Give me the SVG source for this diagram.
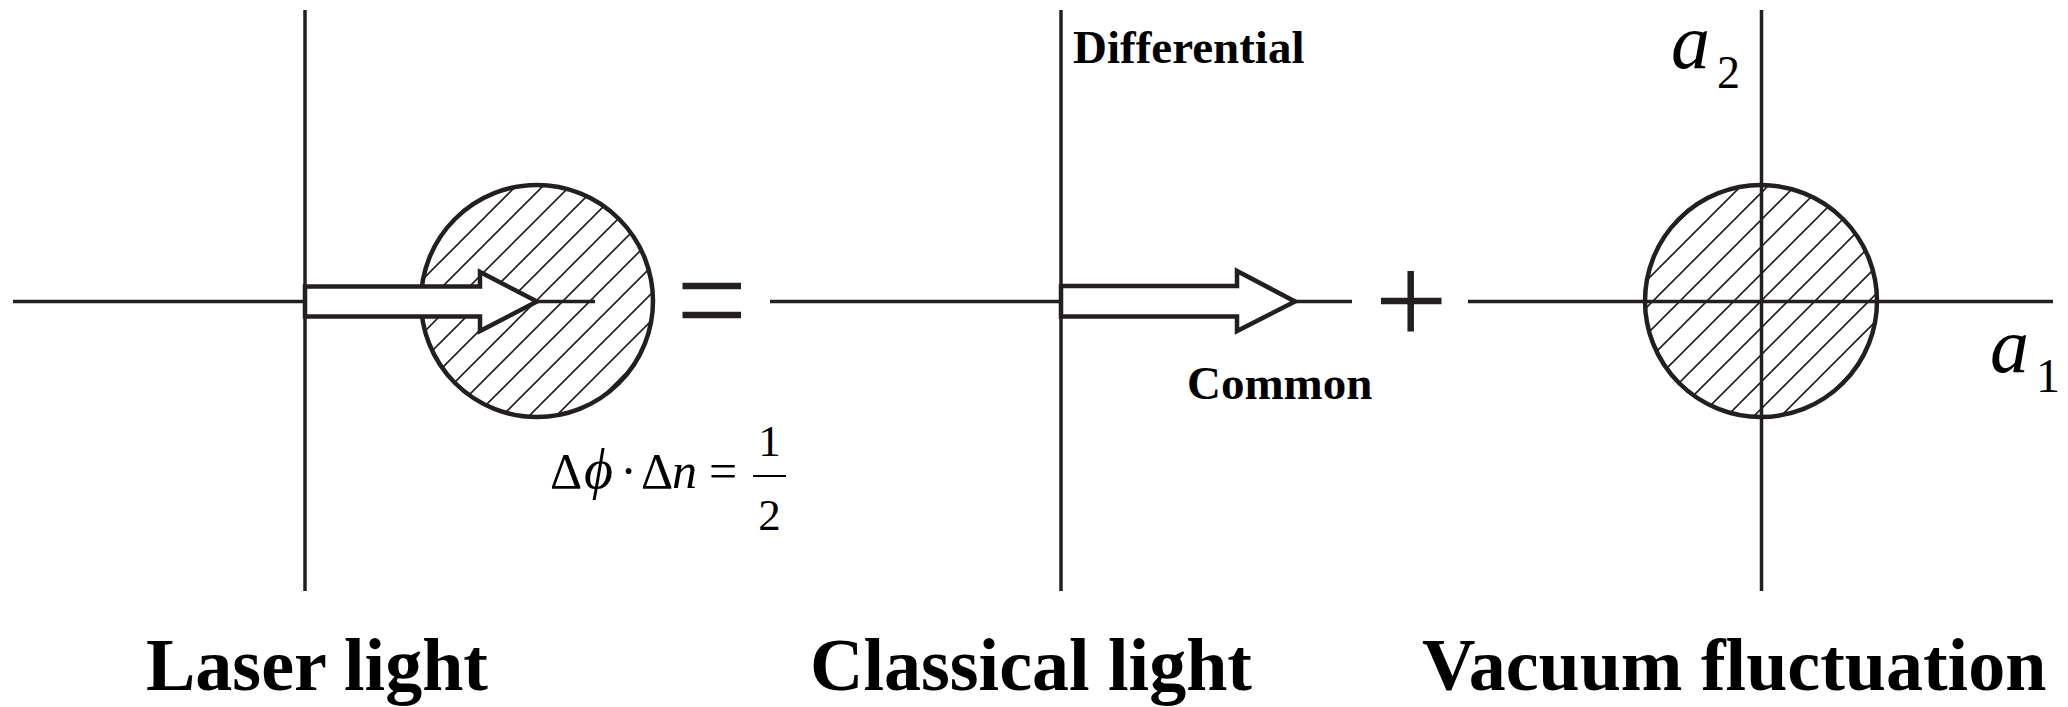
<svg xmlns="http://www.w3.org/2000/svg" width="2068" height="707" viewBox="0 0 2068 707">
<style>
.ax{stroke:#231f20;stroke-width:3.5;fill:none}
.circ{stroke:#231f20;stroke-width:4.5}
.arr{stroke:#231f20;stroke-width:4.5;fill:#fff;stroke-linejoin:miter}
.sym{stroke:#231f20;stroke-width:6.5;fill:none}
.lbl{font-family:"Liberation Serif","Times New Roman",serif;font-weight:bold;font-size:74px;fill:#000}
.sm{font-family:"Liberation Serif","Times New Roman",serif;font-weight:bold;font-size:47px;fill:#000}
</style>
<defs>
<pattern id="hatchA" patternUnits="userSpaceOnUse" x="0" y="0" width="27" height="27">
<path d="M0,27 L27,0 M-5,5 L5,-5 M22,32 L32,22" stroke="#231f20" stroke-width="1.6"/>
</pattern>
<pattern id="hatchB" patternUnits="userSpaceOnUse" x="10" y="0" width="27" height="27">
<path d="M0,27 L27,0 M-5,5 L5,-5 M22,32 L32,22" stroke="#231f20" stroke-width="1.6"/>
</pattern>
</defs>
<rect width="2068" height="707" fill="#fff"/>

<g id="laser">
<circle class="circ" cx="537" cy="301" r="116" fill="url(#hatchA)"/>
<line class="ax" x1="13" y1="301.5" x2="305" y2="301.5"/>
<line class="ax" x1="305" y1="10" x2="305" y2="591"/>
<polygon class="arr" points="305,286.5 480,286.5 480,272 537,301.5 480,331 480,316.5 305,316.5"/>
<line class="ax" x1="537" y1="301.5" x2="595" y2="301.5"/>
<g id="formula" font-family="'Liberation Serif','DejaVu Serif',serif" fill="#000">
<text x="550" y="488" font-size="50">Δ</text>
<text x="584" y="488" font-size="56" font-style="italic">ϕ</text>
<text x="628.5" y="488" font-size="50" text-anchor="middle">·</text>
<text x="641" y="488" font-size="50">Δ</text>
<text x="672" y="488" font-size="50" font-style="italic">n</text>
<text x="709" y="488" font-size="50">=</text>
<line x1="753" y1="476" x2="786" y2="476" stroke="#000" stroke-width="2"/>
<text x="769.5" y="456" font-size="45" text-anchor="middle">1</text>
<text x="769.5" y="530" font-size="45" text-anchor="middle">2</text>
</g>
<text class="lbl" x="146" y="690">Laser light</text>
</g>

<g id="equals">
<line class="sym" x1="682.5" y1="286" x2="741" y2="286"/>
<line class="sym" x1="682.5" y1="315" x2="741" y2="315"/>
</g>

<g id="classical">
<line class="ax" x1="770" y1="301.5" x2="1061" y2="301.5"/>
<line class="ax" x1="1061" y1="10" x2="1061" y2="591"/>
<polygon class="arr" points="1061,286 1237,286 1237,271 1295,301.5 1237,331 1237,316.5 1061,316.5"/>
<line class="ax" x1="1295" y1="301.5" x2="1352" y2="301.5"/>
<text class="sm" x="1073" y="63">Differential</text>
<text class="sm" x="1187" y="399">Common</text>
<text class="lbl" x="810" y="690">Classical light</text>
</g>

<g id="plus">
<line class="sym" x1="1410.7" y1="271" x2="1410.7" y2="331.5"/>
<line class="sym" x1="1381" y1="301" x2="1441.5" y2="301"/>
</g>

<g id="vacuum">
<circle class="circ" cx="1761" cy="301" r="116" fill="url(#hatchB)"/>
<line class="ax" x1="1468" y1="301.5" x2="2053" y2="301.5"/>
<line class="ax" x1="1761.5" y1="10" x2="1761.5" y2="591"/>
<g font-family="'Liberation Serif','Times New Roman',serif" fill="#000">
<text x="1990" y="372" font-size="78" font-style="italic">a</text>
<text x="2036" y="392" font-size="48">1</text>
<text x="1671" y="68" font-size="78" font-style="italic">a</text>
<text x="1717" y="88" font-size="46">2</text>
</g>
<text class="lbl" x="1422" y="690">Vacuum fluctuation</text>
</g>
</svg>
